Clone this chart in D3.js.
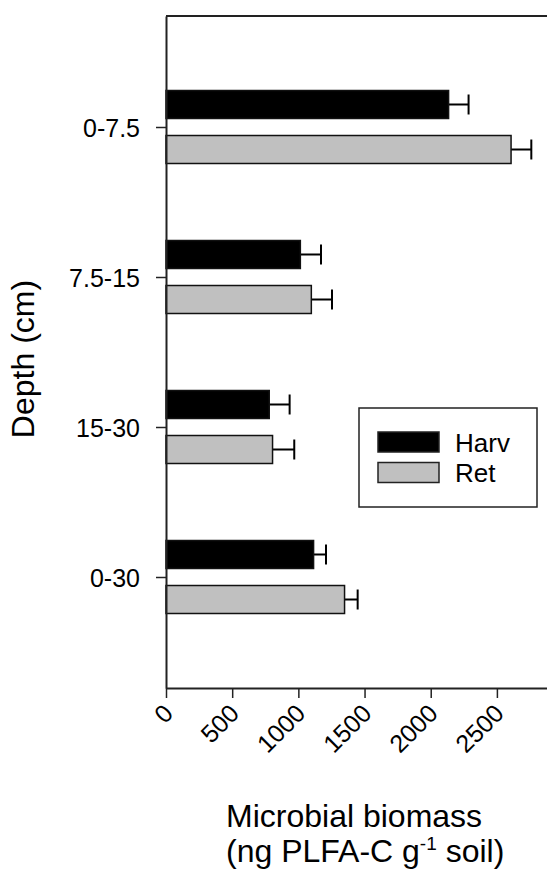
<!DOCTYPE html>
<html>
<head>
<meta charset="utf-8">
<script src="https://cdn.jsdelivr.net/npm/d3@7"></script>
<style>
  body { margin: 0; background: #fff; }
  text { font-family: "Liberation Sans", Arial, sans-serif; fill: #000; }
</style>
</head>
<body>
<div id="chart"></div>
<script>
// datos
var depths = ["0-7.5", "7.5-15", "15-30", "0-30"],
    series = ["Harv", "Ret"],
    harv = [2135, 1015, 780, 1115],
    harvErr = [151, 156, 154, 94],
    ret = [2607, 1098, 805, 1349],
    retErr = [153, 156, 164, 99],
    xTicks = [0, 500, 1000, 1500, 2000, 2500];

var w = 547, h = 869,
    mLeft = 166, mTop = 16, mBottom = 688;

var colors = {Harv: "#000000", Ret: "#c0c0c0"};

var svg = d3.select("#chart")
            .append("svg")
            .attr("width", w)
            .attr("height", h)
            .style("background-color", "white");

var xScale = d3.scaleLinear()
        .domain([0, 3000])
        .range([mLeft, mLeft + 3000 * 0.13236]),
    yScale = d3.scalePoint()
        .domain(depths)
        .range([mTop, mBottom])
        .padding(0.74),
    sub = d3.scaleBand()
        .domain(series)
        .range([-36.5, 36.5])
        .paddingInner(0.378);

// filas para las barras
var rows = [];
depths.forEach(function (d, i) {
    rows.push({depth: d, key: "Harv", v: harv[i], e: harvErr[i]});
    rows.push({depth: d, key: "Ret", v: ret[i], e: retErr[i]});
});

// borde superior
svg.append("line")
    .attr("x1", mLeft).attr("x2", w)
    .attr("y1", mTop).attr("y2", mTop)
    .attr("stroke", "#222").attr("stroke-width", 2);

var g = svg.append("g");

function midY(d) { return yScale(d.depth) + sub(d.key) + sub.bandwidth() / 2; }

// barras de error
var err = g.selectAll(".err").data(rows).enter().append("g").attr("class", "err");
err.append("line")
    .attr("x1", function (d) { return xScale(d.v); })
    .attr("x2", function (d) { return xScale(d.v + d.e); })
    .attr("y1", midY)
    .attr("y2", midY)
    .attr("stroke", "#000").attr("stroke-width", 2);
err.append("line")
    .attr("x1", function (d) { return xScale(d.v + d.e); })
    .attr("x2", function (d) { return xScale(d.v + d.e); })
    .attr("y1", function (d) { return midY(d) - 10; })
    .attr("y2", function (d) { return midY(d) + 10; })
    .attr("stroke", "#000").attr("stroke-width", 2);

g.selectAll("rect.bar").data(rows).enter().append("rect")
    .attr("class", "bar")
    .attr("x", xScale(0))
    .attr("y", function (d) { return yScale(d.depth) + sub(d.key); })
    .attr("width", function (d) { return xScale(d.v) - xScale(0); })
    .attr("height", sub.bandwidth())
    .attr("fill", function (d) { return colors[d.key]; })
    .attr("stroke", "#111")
    .attr("stroke-width", 1.5);

// ejes
var yAxis = d3.axisLeft(yScale).tickSizeInner(10).tickSizeOuter(0).tickPadding(16);
var gy = svg.append("g")
    .attr("transform", "translate(" + mLeft + ",0)")
    .call(yAxis);
gy.select(".domain").attr("stroke", "#222").attr("stroke-width", 2);
gy.selectAll(".tick line").attr("stroke", "#222").attr("stroke-width", 1.5);
gy.selectAll(".tick text")
    .style("font-size", "25px")
    .style("font-family", "'Liberation Sans', Arial, sans-serif")
    .attr("dy", "0.36em");

var xAxis = d3.axisBottom(xScale).tickValues(xTicks).tickFormat(d3.format("d"))
    .tickSizeInner(10).tickSizeOuter(0);
var gx = svg.append("g")
    .attr("transform", "translate(0," + mBottom + ")")
    .call(xAxis);
gx.select(".domain").attr("stroke", "#222").attr("stroke-width", 2);
gx.selectAll(".tick line").attr("stroke", "#222").attr("stroke-width", 1.5);
gx.selectAll(".tick text")
    .style("font-size", "25px")
    .style("font-family", "'Liberation Sans', Arial, sans-serif")
    .attr("x", 0).attr("y", 0).attr("dy", 0)
    .attr("text-anchor", "end")
    .attr("transform", "translate(8,27) rotate(-45)");

// titulos
svg.append("text")
    .attr("transform", "translate(34,359) rotate(-90)")
    .attr("text-anchor", "middle")
    .style("font-size", "32px")
    .text("Depth (cm)");

svg.append("text")
    .attr("x", 226).attr("y", 827)
    .style("font-size", "32px")
    .text("Microbial biomass");

var t2 = svg.append("text")
    .attr("x", 226).attr("y", 862)
    .style("font-size", "32px");
t2.append("tspan").text("(ng PLFA-C g");
t2.append("tspan").attr("dy", -12).style("font-size", "19px").text("-1");
t2.append("tspan").attr("dy", 12).text(" soil)");

// leyenda
var leg = svg.append("g");
leg.append("rect")
    .attr("x", 359).attr("y", 408)
    .attr("width", 178).attr("height", 99)
    .attr("fill", "white").attr("stroke", "#222").attr("stroke-width", 1.5);
series.forEach(function (s, i) {
    leg.append("rect")
        .attr("x", 378).attr("y", 432 + i * 30.5)
        .attr("width", 61).attr("height", 20)
        .attr("fill", colors[s]).attr("stroke", "#222").attr("stroke-width", 1.5);
    leg.append("text")
        .attr("x", 455).attr("y", 451.5 + i * 30.5)
        .style("font-size", "26px")
        .text(s);
});
</script>
</body>
</html>
